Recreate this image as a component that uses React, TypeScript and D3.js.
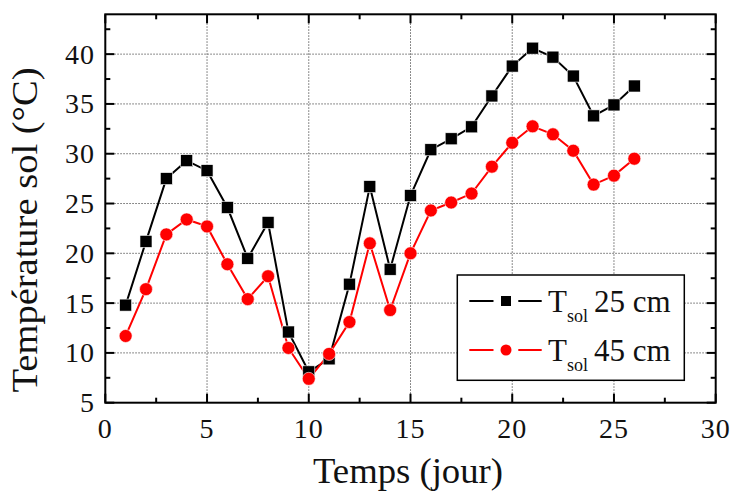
import React from "react";
import * as d3 from "d3";

const days = [1,2,3,4,5,6,7,8,9,10,11,12,13,14,15,16,17,18,19,20,21,22,23,24,25,26];
const tsol25 = [14.8,21.2,27.5,29.3,28.3,24.6,19.5,23.1,12.1,8.1,9.4,16.9,26.7,18.4,25.8,30.4,31.5,32.7,35.8,38.8,40.6,39.7,37.8,33.8,34.9,36.8];
const tsol45 = [11.7,16.4,21.9,23.4,22.7,18.9,15.4,17.7,10.5,7.4,9.9,13.1,21.0,14.3,20.0,24.3,25.1,26.0,28.7,31.1,32.75,31.95,30.3,26.9,27.8,29.5];
const xTicks = [0,5,10,15,20,25,30];
const xMinor = [2.5,7.5,12.5,17.5,22.5,27.5];
const yTicks = [5,10,15,20,25,30,35,40];
const yMinor = [7.5,12.5,17.5,22.5,27.5,32.5,37.5,42.5];
const seriesNames = ["25 cm","45 cm"];

const FONT = "'Liberation Serif', 'DejaVu Serif', serif";

export default function App() {
  const W = 733, H = 492;
  const L = 105.3, R = 715.7, T = 14.3, B = 402.7;
  const x = d3.scaleLinear().domain([0, 30]).range([L, R]);
  const y = d3.scaleLinear().domain([5, 44]).range([B, T]);
  const line = d3.line<number>().x((_, i) => x(days[i])).y(d => y(d));

  const majorLen = 9, minorLen = 5;

  return (
    <svg width={W} height={H} style={{ position: "absolute", left: 0, top: 0 }}>
      <rect x={0} y={0} width={W} height={H} fill="#fff" />
      {/* grid */}
      {xTicks.slice(1, -1).map(t => (
        <line key={"gx" + t} x1={x(t)} x2={x(t)} y1={T} y2={B} stroke="#666" strokeWidth={1} strokeDasharray="1.5,1.5" />
      ))}
      {yTicks.slice(1).map(t => (
        <line key={"gy" + t} x1={L} x2={R} y1={y(t)} y2={y(t)} stroke="#666" strokeWidth={1} strokeDasharray="1.5,1.5" />
      ))}
      {/* ticks */}
      {xTicks.map(t => (
        <g key={"xt" + t}>
          <line x1={x(t)} x2={x(t)} y1={B} y2={B - majorLen} stroke="#000" strokeWidth={2} />
          <line x1={x(t)} x2={x(t)} y1={T} y2={T + majorLen} stroke="#000" strokeWidth={2} />
          <text x={x(t)} y={438} textAnchor="middle" fontFamily={FONT} fontSize={28} letterSpacing={1} fill="#111">{t}</text>
        </g>
      ))}
      {xMinor.map(t => (
        <g key={"xm" + t}>
          <line x1={x(t)} x2={x(t)} y1={B} y2={B - minorLen} stroke="#000" strokeWidth={2} />
          <line x1={x(t)} x2={x(t)} y1={T} y2={T + minorLen} stroke="#000" strokeWidth={2} />
        </g>
      ))}
      {yTicks.map(t => (
        <g key={"yt" + t}>
          <line x1={L} x2={L + majorLen} y1={y(t)} y2={y(t)} stroke="#000" strokeWidth={2} />
          <line x1={R} x2={R - majorLen} y1={y(t)} y2={y(t)} stroke="#000" strokeWidth={2} />
          <text x={95} y={y(t)} dy="0.34em" textAnchor="end" fontFamily={FONT} fontSize={28} letterSpacing={1} fill="#111">{t}</text>
        </g>
      ))}
      {yMinor.map(t => (
        <g key={"ym" + t}>
          <line x1={L} x2={L + minorLen} y1={y(t)} y2={y(t)} stroke="#000" strokeWidth={2} />
          <line x1={R} x2={R - minorLen} y1={y(t)} y2={y(t)} stroke="#000" strokeWidth={2} />
        </g>
      ))}
      {/* series */}
      <path d={line(tsol25) || ""} fill="none" stroke="#000" strokeWidth={2} />
      <path d={line(tsol45) || ""} fill="none" stroke="#ff0000" strokeWidth={2} />
      {tsol25.map((v, i) => (
        <rect key={"s" + i} x={x(days[i]) - 6} y={y(v) - 6} width={12} height={12} fill="#000" stroke="#fff" strokeWidth={0.6} />
      ))}
      {tsol45.map((v, i) => (
        <circle key={"c" + i} cx={x(days[i])} cy={y(v)} r={6.5} fill="#ff0000" stroke="#fff" strokeWidth={0.6} />
      ))}
      {/* frame */}
      <rect x={L} y={T} width={R - L} height={B - T} fill="none" stroke="#000" strokeWidth={2} />
      {/* legend */}
      <rect x={457.3} y={275} width={227} height={105.3} fill="#fff" stroke="#000" strokeWidth={1.5} />
      {seriesNames.map((name, i) => {
        const cy = i === 0 ? 301 : 350;
        const col = i === 0 ? "#000" : "#ff0000";
        return (
          <g key={"lg" + i}>
            <line x1={469.3} x2={493.5} y1={cy} y2={cy} stroke={col} strokeWidth={2} />
            <line x1={518.3} x2={541.7} y1={cy} y2={cy} stroke={col} strokeWidth={2} />
            {i === 0 ? (
              <rect x={501} y={cy - 5} width={10} height={10} fill="#000" />
            ) : (
              <circle cx={506} cy={cy} r={5.5} fill="#ff0000" />
            )}
            <text x={548} y={cy + 10.5} fontFamily={FONT} fontSize={31} fill="#111">
              T
              <tspan fontSize={18} dy={10}>sol</tspan>
              <tspan dy={-10} dx={6}>{name}</tspan>
            </text>
          </g>
        );
      })}
      {/* axis titles */}
      <text x={408} y={483} textAnchor="middle" fontFamily={FONT} fontSize={36} textLength={190} lengthAdjust="spacingAndGlyphs" fill="#111">Temps (jour)</text>
      <text transform={`translate(37, 230) rotate(-90)`} textAnchor="middle" fontFamily={FONT} fontSize={36} textLength={325} lengthAdjust="spacingAndGlyphs" fill="#111">Température sol (°C)</text>
    </svg>
  );
}
